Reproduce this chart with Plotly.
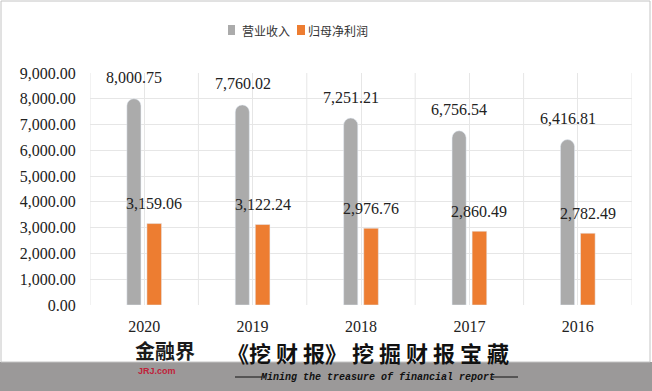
import plotly.graph_objects as go

years = ["2020", "2019", "2018", "2017", "2016"]
revenue = [8000.75, 7760.02, 7251.21, 6756.54, 6416.81]
profit = [3159.06, 3122.24, 2976.76, 2860.49, 2782.49]
series_names = ["营业收入", "归母净利润"]

GRAY = "#ababab"
ORANGE = "#ed7d31"
W, H = 652, 391
ML, MR, MT, MB = 90, 20, 73, 86
PW, PH = W - ML - MR, H - MT - MB


def px_x(x):
    return (x - ML) / PW


def px_y(y):
    return (H - MB - y) / PH


fig = go.Figure()
fig.add_trace(go.Bar(x=years, y=revenue, name=series_names[0], marker=dict(color=GRAY, cornerradius=7),
                     width=0.13, offset=-0.16))
fig.add_trace(go.Bar(x=years, y=profit, name=series_names[1], marker=dict(color=ORANGE),
                     width=0.135, offset=0.025))

num_font = dict(family="Liberation Serif", size=16, color="#222222")
for i, v in enumerate(revenue):
    fig.add_annotation(x=i, y=v, text=f"{v:,.2f}", showarrow=False, xshift=-10, yshift=21,
                       yanchor="middle", font=num_font)
for i, v in enumerate(profit):
    fig.add_annotation(x=i, y=v, text=f"{v:,.2f}", showarrow=False, xshift=10, yshift=20,
                       yanchor="middle", font=num_font)

shapes = []
# category boundary gridlines
for i in range(len(years) + 1):
    shapes.append(dict(type="line", xref="x", yref="paper", x0=i - 0.5, x1=i - 0.5, y0=0, y1=1,
                       line=dict(color="#e6e6e6", width=1), layer="below"))
# bottom grey band
shapes.append(dict(type="rect", xref="paper", yref="paper", x0=px_x(0), x1=px_x(W), y0=px_y(362), y1=px_y(H),
                   fillcolor="#9b9999", line=dict(width=0), layer="below"))
# outer border
shapes.append(dict(type="rect", xref="paper", yref="paper", x0=px_x(1), x1=px_x(650), y0=px_y(362), y1=px_y(1),
                   fillcolor="rgba(0,0,0,0)", line=dict(color="#c4c4c4", width=1), layer="below"))
# legend swatches
legend_items = [(228, 235, GRAY, series_names[0], 242), (297, 305, ORANGE, series_names[1], 308)]
for x0, x1, col, _, _ in legend_items:
    shapes.append(dict(type="rect", xref="paper", yref="paper", x0=px_x(x0), x1=px_x(x1),
                       y0=px_y(35), y1=px_y(25), fillcolor=col, line=dict(width=0)))
# footer rules
for x0, x1 in [(235, 262), (492, 518)]:
    shapes.append(dict(type="line", xref="paper", yref="paper", x0=px_x(x0), x1=px_x(x1),
                       y0=px_y(377), y1=px_y(377), line=dict(color="#111111", width=1)))

fig.update_layout(
    width=W, height=H,
    margin=dict(l=ML, r=MR, t=MT, b=MB),
    paper_bgcolor="white", plot_bgcolor="white",
    barmode="group",
    shapes=shapes,
    showlegend=False,
    xaxis=dict(type="category", showgrid=True, gridcolor="#e6e6e6", gridwidth=1,
               tickfont=num_font, ticks="outside", ticklen=7, tickcolor="rgba(0,0,0,0)",
               showline=False, zeroline=False, range=[-0.5, len(years) - 0.5]),
    yaxis=dict(range=[0, 9000], dtick=1000, tickformat=",.2f", showgrid=True, gridcolor="#e6e6e6",
               gridwidth=1, tickfont=num_font, ticks="outside", ticklen=10, tickcolor="rgba(0,0,0,0)",
               showline=False, zeroline=False),
)

for _, _, _, name, tx in legend_items:
    fig.add_annotation(xref="paper", yref="paper", x=px_x(tx), y=px_y(30), xanchor="left", yanchor="middle",
                       text=name, showarrow=False, xshift=-2,
                       font=dict(family="Noto Sans CJK SC", size=12, color="#333333"))

# watermark / footer
fig.add_annotation(xref="paper", yref="paper", x=px_x(134), y=px_y(350), xanchor="left", yanchor="middle",
                   text="<b>金融界</b>", showarrow=False, borderpad=0,
                   font=dict(family="Noto Sans CJK SC", size=20, color="#1a1a1a"))
fig.add_annotation(xref="paper", yref="paper", x=px_x(137), y=px_y(371), xanchor="left", yanchor="middle",
                   text="<b>JRJ.com</b>", showarrow=False, borderpad=0,
                   font=dict(family="Liberation Sans", size=9, color="#c0213a"))
fig.add_annotation(xref="paper", yref="paper", x=px_x(226), y=px_y(352), xanchor="left", yanchor="middle",
                   text="<b>《挖 财 报》 挖 掘 财 报 宝 藏</b>", showarrow=False, borderpad=0,
                   font=dict(family="Noto Sans CJK SC", size=22, color="#111111"))
fig.add_annotation(xref="paper", yref="paper", x=px_x(377), y=px_y(377), xanchor="center", yanchor="middle",
                   text="<b><i>Mining the treasure of financial report</i></b>", showarrow=False, borderpad=0,
                   font=dict(family="Liberation Mono", size=10, color="#111111"))

fig.write_html("out.html", config={"displayModeBar": False},
               post_script="document.body.style.margin='0';")
